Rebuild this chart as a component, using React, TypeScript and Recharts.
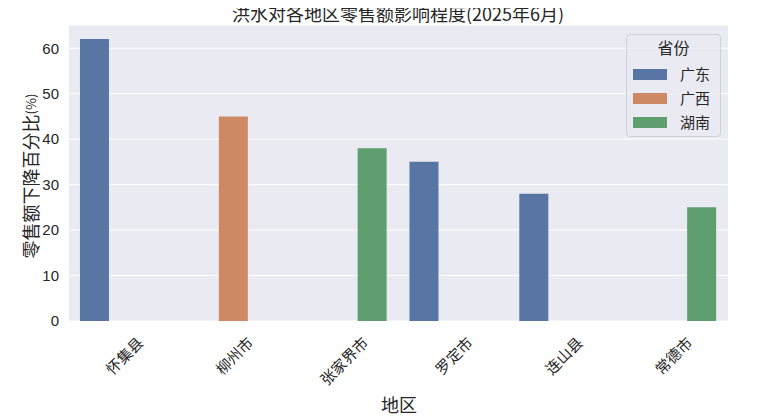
import React from 'react';
import { BarChart, Bar, XAxis, YAxis, CartesianGrid } from 'recharts';

const regions = ['怀集县', '柳州市', '张家界市', '罗定市', '连山县', '常德市'];
const provinces = ['广东', '广西', '湖南'];
const regionProvince = ['广东', '广西', '湖南', '广东', '广东', '湖南'];
const declines = [62, 45, 38, 35, 28, 25];
const yTicks = [0, 10, 20, 30, 40, 50, 60];
const provinceColors = ['#5875a4', '#cc8963', '#5f9e6e'];

const data = regions.map((r, i) => {
  const row: Record<string, any> = { region: r };
  provinces.forEach((p) => {
    row[p] = regionProvince[i] === p ? declines[i] : null;
  });
  return row;
});

const CJK = '"Noto Sans CJK SC", "Noto Sans", sans-serif';
const NUM = '"Liberation Sans", Arial, "Noto Sans CJK SC", sans-serif';
const TXT = '#262626';

const XTick = (props: any) => {
  const { x, y, payload } = props;
  const label: string = payload.value;
  const n = label.length;
  const fs = 15;
  const cy = y + 11 + ((n + 1) * fs * 0.707) / 2;
  return (
    <text
      x={x}
      y={cy}
      textAnchor="middle"
      dominantBaseline="central"
      transform={`rotate(-45, ${x}, ${cy})`}
      fontFamily={CJK}
      fontSize={fs}
      fill={TXT}
    >
      {label}
    </text>
  );
};

const LegendBox = () => (
  <div
    style={{
      position: 'absolute',
      left: 626,
      top: 34,
      width: 95,
      height: 103,
      border: '1px solid #d0d0d8',
      borderRadius: 4,
      background: 'rgba(234,234,242,0.8)',
      boxSizing: 'border-box',
      fontFamily: CJK,
      color: TXT,
    }}
  >
    <div style={{ position: 'absolute', top: 1, left: 0, width: '100%', textAlign: 'center', fontSize: 16, lineHeight: '22px' }}>省份</div>
    {provinces.map((p, i) => (
      <div key={p} style={{ position: 'absolute', left: 6, top: 30 + i * 24, display: 'flex', alignItems: 'center' }}>
        <div style={{ width: 34, height: 11, background: provinceColors[i] }} />
        <span style={{ marginLeft: 13, fontSize: 15, lineHeight: '18px' }}>{p}</span>
      </div>
    ))}
  </div>
);

export default function App() {
  return (
    <div style={{ marginLeft: -8, marginTop: -8, width: 766, height: 417, background: '#fff', position: 'relative' }}>
      <BarChart
        width={766}
        height={417}
        data={data}
        margin={{ top: 25, right: 38, left: 29, bottom: 0 }}
        barCategoryGap="10%"
        barGap={0}
      >
        <CartesianGrid stroke="#ffffff" strokeWidth={1} vertical={false} fill="#eaeaf2" />
        <XAxis
          dataKey="region"
          height={96}
          tick={<XTick />}
          tickLine={false}
          axisLine={false}
          interval={0}
          tickSize={0}
          padding={{ left: 0, right: 0 }}
        />
        <YAxis
          width={40}
          domain={[0, 65.1]}
          ticks={yTicks}
          tickLine={false}
          axisLine={false}
          tickSize={0}
          tickMargin={10}
          tick={{ fontFamily: NUM, fontSize: 15, fill: TXT }}
          allowDataOverflow
        />
        {provinces.map((p, i) => (
          <Bar key={p} dataKey={p} fill={provinceColors[i]} isAnimationActive={false} />
        ))}
        <text x={398} y={13} textAnchor="middle" dominantBaseline="central" fontFamily={CJK} fontSize={18} fill={TXT}>
          洪水对各地区零售额影响程度(2025年6月)
        </text>
        <text
          x={30}
          y={176}
          textAnchor="middle"
          dominantBaseline="central"
          transform="rotate(-90, 30, 176)"
          fontFamily={CJK}
          fontSize={18}
          fill={TXT}
        >
          零售额下降百分比<tspan fontSize={13}>(%)</tspan>
        </text>
        <text x={399} y={404} textAnchor="middle" dominantBaseline="central" fontFamily={CJK} fontSize={18} fill={TXT}>
          地区
        </text>
      </BarChart>
      <LegendBox />
    </div>
  );
}
